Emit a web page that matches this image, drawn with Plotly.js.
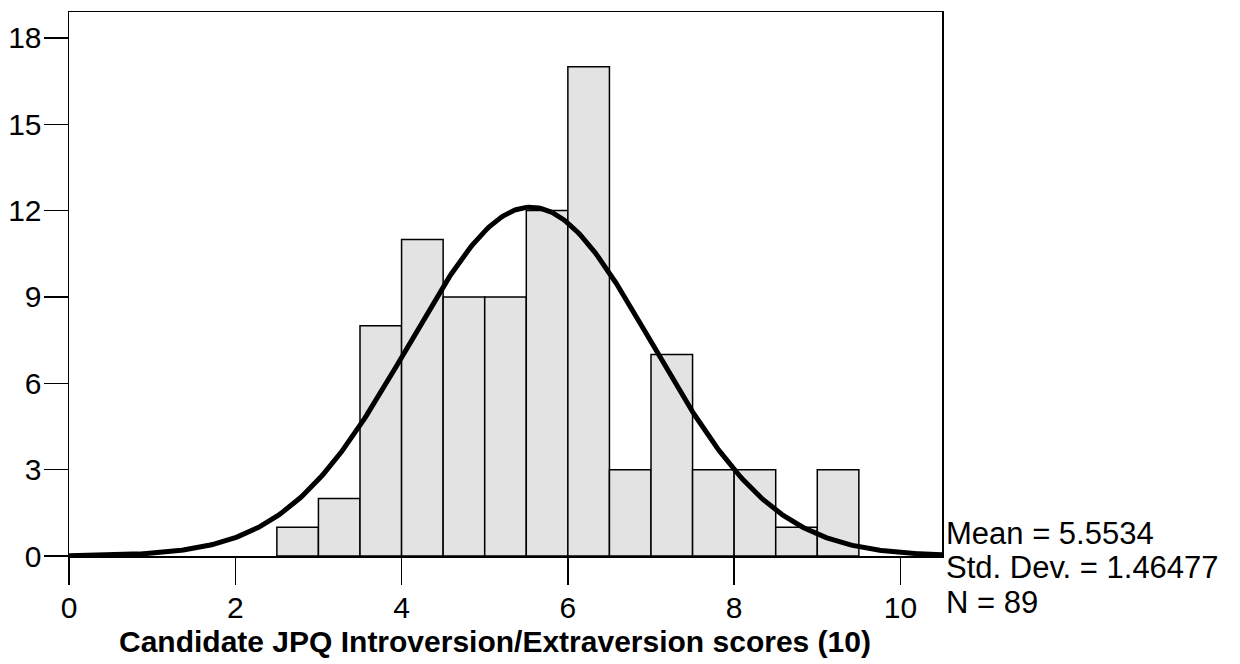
<!DOCTYPE html>
<html>
<head>
<meta charset="utf-8">
<script src="https://cdn.plot.ly/plotly-3.0.1.min.js"></script>
<style>
  html, body { margin: 0; padding: 0; background: #ffffff; }
  #chart { width: 1240px; height: 664px; }
</style>
</head>
<body>
<div id="chart"></div>
<script>
// Histogram bins (lower edges, width 0.5) and their counts
const binStarts = [2.5, 3.0, 3.5, 4.0, 4.5, 5.0, 5.5, 6.0, 6.5, 7.0, 7.5, 8.0, 8.5, 9.0];
const binCounts = [1, 2, 8, 11, 9, 9, 12, 17, 3, 7, 3, 3, 1, 3];
const binWidth = 0.5;

// Summary statistics shown beside the plot
const meanValue = 5.5534;
const stdDev = 1.46477;
const nCases = 89;

const xTicks = [0, 2, 4, 6, 8, 10];
const yTicks = [0, 3, 6, 9, 12, 15, 18];
const xTitle = "Candidate JPQ Introversion/Extraversion scores (10)";

// Fitted normal curve scaled to counts per bin
const curveX = [];
const curveY = [];
for (let i = 0; i <= 420; i++) {
  const x = i * 0.025;
  const z = (x - meanValue) / stdDev;
  curveX.push(x);
  curveY.push(nCases * binWidth * Math.exp(-0.5 * z * z) / (stdDev * Math.sqrt(2 * Math.PI)));
}

const barTrace = {
  type: "bar",
  x: binStarts.map(b => b + binWidth / 2),
  y: binCounts,
  width: binStarts.map(() => binWidth),
  marker: { color: "#e3e3e3", line: { color: "#000000", width: 1.5 } },
  hoverinfo: "x+y"
};

const curveTrace = {
  type: "scatter",
  mode: "lines",
  x: curveX,
  y: curveY,
  line: { color: "#000000", width: 5, shape: "linear" },
  hoverinfo: "skip"
};

const font = "'Liberation Sans', Arial, Helvetica, sans-serif";

const layout = {
  width: 1240,
  height: 664,
  margin: { l: 69, r: 298, t: 12, b: 108 },
  paper_bgcolor: "#ffffff",
  plot_bgcolor: "#ffffff",
  showlegend: false,
  bargap: 0,
  font: { family: font, color: "#000000" },
  xaxis: {
    range: [0, 10.5],
    tickmode: "array",
    tickvals: xTicks,
    ticktext: xTicks.map(String),
    ticks: "outside",
    ticklen: 27,
    tickwidth: 1.5,
    tickcolor: "#000000",
    tickfont: { family: font, size: 30, color: "#000000" },
    ticklabelstandoff: -3,
    showline: true,
    linecolor: "#000000",
    linewidth: 1.5,
    mirror: true,
    showgrid: false,
    zeroline: false
  },
  yaxis: {
    range: [0, 18.9],
    tickmode: "array",
    tickvals: yTicks,
    ticktext: yTicks.map(String),
    ticks: "outside",
    ticklen: 24,
    tickwidth: 1.5,
    tickcolor: "#000000",
    tickfont: { family: font, size: 30, color: "#000000" },
    ticklabelstandoff: -4,
    showline: true,
    linecolor: "#000000",
    linewidth: 1.5,
    mirror: true,
    showgrid: false,
    zeroline: false
  },
  annotations: [
    {
      text: "<b>" + xTitle + "</b>",
      xref: "paper", yref: "paper",
      x: 0.488, y: -0.158,
      xanchor: "center", yanchor: "middle",
      showarrow: false,
      font: { family: font, size: 30, color: "#000000" }
    },
    {
      text: "Mean = " + meanValue.toFixed(4),
      xref: "paper", yref: "paper",
      x: 1, xshift: 2, y: 0.042,
      xanchor: "left", yanchor: "middle",
      showarrow: false,
      font: { family: font, size: 31, color: "#000000" }
    },
    {
      text: "Std. Dev. = " + stdDev.toFixed(5),
      xref: "paper", yref: "paper",
      x: 1, xshift: 2, y: -0.021,
      xanchor: "left", yanchor: "middle",
      showarrow: false,
      font: { family: font, size: 31, color: "#000000" }
    },
    {
      text: "N = " + nCases,
      xref: "paper", yref: "paper",
      x: 1, xshift: 2, y: -0.085,
      xanchor: "left", yanchor: "middle",
      showarrow: false,
      font: { family: font, size: 31, color: "#000000" }
    }
  ]
};

Plotly.newPlot("chart", [barTrace, curveTrace], layout, { displayModeBar: false, staticPlot: true });
</script>
</body>
</html>
